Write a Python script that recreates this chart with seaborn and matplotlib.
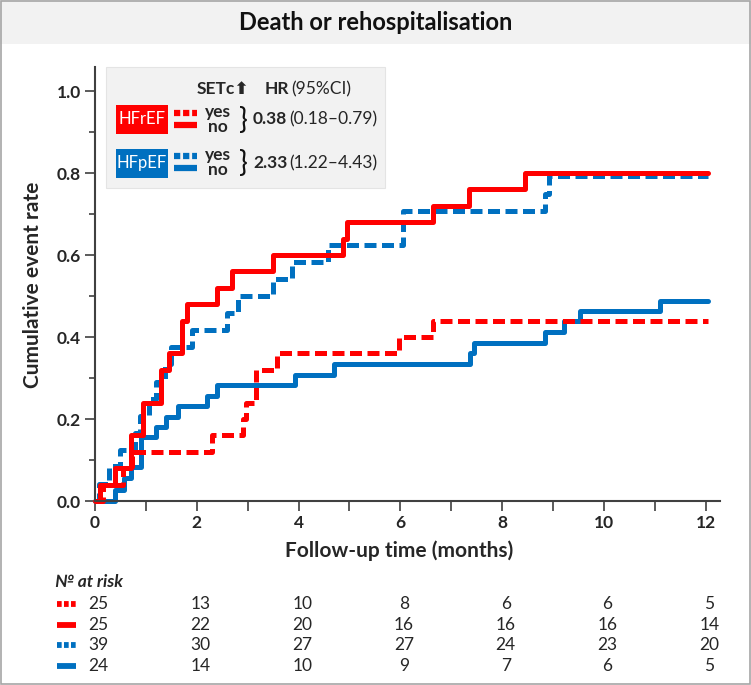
import matplotlib
matplotlib.use("Agg")
import matplotlib.pyplot as plt
from matplotlib.lines import Line2D
from matplotlib.patches import Rectangle
import matplotlib.transforms as mtransforms
import seaborn as sns
import pandas as pd

# step curves (months, cumulative event rate)
hfref_yes_t = [0, 0.15, 0.55, 0.72, 2.3, 2.9, 2.97, 3.17, 3.58, 5.97, 6.65, 12.05]
hfref_yes_v = [0, 0.04, 0.08, 0.12, 0.16, 0.20, 0.24, 0.32, 0.36, 0.40, 0.44, 0.44]

hfref_no_t = [0, 0.1, 0.4, 0.7, 0.95, 1.3, 1.45, 1.7, 1.8, 2.4, 2.7, 3.5, 4.87, 4.95,
              6.65, 7.35, 8.45, 12.05]
hfref_no_v = [0, 0.04, 0.08, 0.16, 0.24, 0.32, 0.36, 0.44, 0.48, 0.52, 0.56, 0.60, 0.64,
              0.68, 0.72, 0.76, 0.80, 0.80]

hfpef_yes_t = [0, 0.07, 0.27, 0.49, 0.79, 0.89, 1.07, 1.2, 1.37, 1.5, 1.9, 2.6, 2.8, 3.5,
               3.88, 4.57, 6.06, 8.84, 8.93, 12.05]
hfpef_yes_v = [0, 0.042, 0.085, 0.125, 0.166, 0.207, 0.25, 0.29, 0.333, 0.375, 0.416,
               0.458, 0.50, 0.542, 0.583, 0.625, 0.708, 0.75, 0.792, 0.792]

hfpef_no_t = [0, 0.4, 0.56, 0.7, 0.9, 1.2, 1.4, 1.63, 2.2, 2.4, 3.92, 4.7, 7.37, 7.45,
              8.84, 9.22, 9.52, 11.1, 12.05]
hfpef_no_v = [0, 0.028, 0.056, 0.083, 0.157, 0.18, 0.205, 0.232, 0.256, 0.282, 0.307,
              0.333, 0.36, 0.386, 0.413, 0.44, 0.463, 0.489, 0.489]

# numbers at risk
risk_times = [0, 2, 4, 6, 8, 10, 12]
risk_hfref_yes = [25, 13, 10, 8, 6, 6, 5]
risk_hfref_no = [25, 22, 20, 16, 16, 16, 14]
risk_hfpef_yes = [39, 30, 27, 27, 24, 23, 20]
risk_hfpef_no = [24, 14, 10, 9, 7, 6, 5]

RED = "#ff0000"
BLUE = "#0070c0"
DASH = (0, (2.4, 1.1))
SHORT = (0, (0.8, 0.4))
W, H = 751, 685

sns.set_style("white")
plt.rcParams["font.family"] = ["Lato", "DejaVu Sans"]

fig = plt.figure(figsize=(W / 100, H / 100), dpi=100)


def fx(px):
    return px / W


def fy(py):
    return 1 - py / H


# frame + title band
fig.add_artist(Rectangle((0, fy(44)), 1, 44 / H, transform=fig.transFigure,
                         facecolor="#f2f2f2", edgecolor="none", zorder=0))
fig.add_artist(Rectangle((0.0007, 0.001), 0.9986, 0.998, transform=fig.transFigure,
                         facecolor="none", edgecolor="#a6a6a6", lw=1.2, zorder=10))
fig.text(0.5, fy(23), "Death or rehospitalisation", ha="center", va="center",
         fontsize=17, fontweight="bold", color="#111111")

ax = fig.add_axes([fx(95), fy(501), (720 - 95) / W, (501 - 67) / H])

curves = [
    (hfpef_no_t, hfpef_no_v, BLUE, "-"),
    (hfpef_yes_t, hfpef_yes_v, BLUE, DASH),
    (hfref_yes_t, hfref_yes_v, RED, DASH),
    (hfref_no_t, hfref_no_v, RED, "-"),
]
for t, v, c, ls in curves:
    df = pd.DataFrame({"t": t, "v": v})
    sns.lineplot(data=df, x="t", y="v", ax=ax, drawstyle="steps-post", color=c,
                 linestyle=ls, linewidth=3.6, sort=False, estimator=None,
                 clip_on=False)

ax.set_xlim(0, 12.28)
ax.set_ylim(0, 434 / 410)
ax.set_xticks(risk_times)
ax.set_xticks([1, 3, 5, 7, 9, 11], minor=True)
ax.set_yticks([0, 0.2, 0.4, 0.6, 0.8, 1.0])
ax.set_yticks([0.1, 0.3, 0.5, 0.7, 0.9], minor=True)
ax.set_yticklabels(["0.0", "0.2", "0.4", "0.6", "0.8", "1.0"])
ax.tick_params(axis="both", which="major", direction="out", length=7, width=1.2,
               color="#404040", labelsize=12.5, pad=3)
ax.tick_params(axis="x", which="minor", direction="out", length=7, width=1.2,
               color="#404040")
ax.tick_params(axis="y", which="minor", direction="out", length=4, width=1.2,
               color="#404040")
ax.tick_params(bottom=True, left=True, which="both")
for lab in ax.get_xticklabels() + ax.get_yticklabels():
    lab.set_fontweight("bold")
for s in ["top", "right"]:
    ax.spines[s].set_visible(False)
for s in ["left", "bottom"]:
    ax.spines[s].set_color("#404040")
    ax.spines[s].set_linewidth(1.5)
ax.set_xlabel("")
ax.set_ylabel("")
fig.text(fx(399), fy(551), "Follow-up time (months)", ha="center", va="center",
         fontsize=15, fontweight="bold")
fig.text(fx(33), fy(285), "Cumulative event rate", ha="center", va="center",
         rotation=90, fontsize=15, fontweight="bold")

# legend box
fig.add_artist(Rectangle((fx(106), fy(188)), (385 - 106) / W, (188 - 67) / H,
                         transform=fig.transFigure, facecolor="#f2f2f2",
                         edgecolor="#e4e4e4", lw=0.8, zorder=5))
fig.text(fx(223), fy(89), "SETc⬆", ha="center", va="center", fontsize=12.5,
         fontweight="bold", zorder=6)
fig.text(fx(265), fy(89), "HR", ha="left", va="center", fontsize=12.5,
         fontweight="bold", zorder=6)
fig.text(fx(291), fy(89), "(95%CI)", ha="left", va="center", fontsize=12.5,
         zorder=6)

groups = [
    ("HFrEF", RED, 119.5, "0.38", "(0.18–0.79)"),
    ("HFpEF", BLUE, 163, "2.33", "(1.22–4.43)"),
]
for name, c, yc, hr, ci in groups:
    fig.add_artist(Rectangle((fx(116), fy(yc + 14.5)), 52 / W, 29 / H,
                             transform=fig.transFigure, facecolor=c,
                             edgecolor="none", zorder=6))
    fig.text(fx(142), fy(yc), name, ha="center", va="center", fontsize=12,
             color="white", zorder=7)
    fig.add_artist(Line2D([fx(174), fx(197)], [fy(yc - 7), fy(yc - 7)],
                          transform=fig.transFigure, color=c, lw=4.5,
                          linestyle=(0, (1.0, 0.45)), zorder=7))
    fig.add_artist(Line2D([fx(174), fx(197)], [fy(yc + 5), fy(yc + 5)],
                          transform=fig.transFigure, color=c, lw=4.5,
                          solid_capstyle="butt", zorder=7))
    fig.text(fx(218), fy(yc - 8), "yes", ha="center", va="center", fontsize=12.5,
             fontweight="bold", zorder=7)
    fig.text(fx(218), fy(yc + 7), "no", ha="center", va="center", fontsize=12.5,
             fontweight="bold", zorder=7)
    fig.text(fx(243), fy(yc + 1), "}", ha="center", va="center", fontsize=21,
             fontweight="normal", zorder=7, color="#111111")
    fig.text(fx(253), fy(yc), hr, ha="left", va="center", fontsize=12.5,
             fontweight="bold", zorder=7)
    fig.text(fx(289), fy(yc), ci, ha="left", va="center", fontsize=12.5, zorder=7)

# numbers at risk table
fig.text(fx(55), fy(582), "№ at risk", ha="left", va="center", fontsize=12.5,
         fontweight="bold", fontstyle="italic")
trans = mtransforms.blended_transform_factory(ax.transData, fig.transFigure)
rows = [
    (risk_hfref_yes, RED, DASH, 604),
    (risk_hfref_no, RED, "-", 625),
    (risk_hfpef_yes, BLUE, DASH, 645),
    (risk_hfpef_no, BLUE, "-", 666),
]
for vals, c, ls, py in rows:
    style = SHORT if ls != "-" else "-"
    fig.add_artist(Line2D([fx(57), fx(76)], [fy(py), fy(py)],
                          transform=fig.transFigure, color=c, lw=4.2,
                          linestyle=style, solid_capstyle="butt",
                          dash_capstyle="butt"))
    for t, n in zip(risk_times, vals):
        fig.text(t + 0.07, fy(py), str(n), transform=trans, ha="center",
                 va="center", fontsize=12.5)

fig.savefig("out.png", dpi=100)
